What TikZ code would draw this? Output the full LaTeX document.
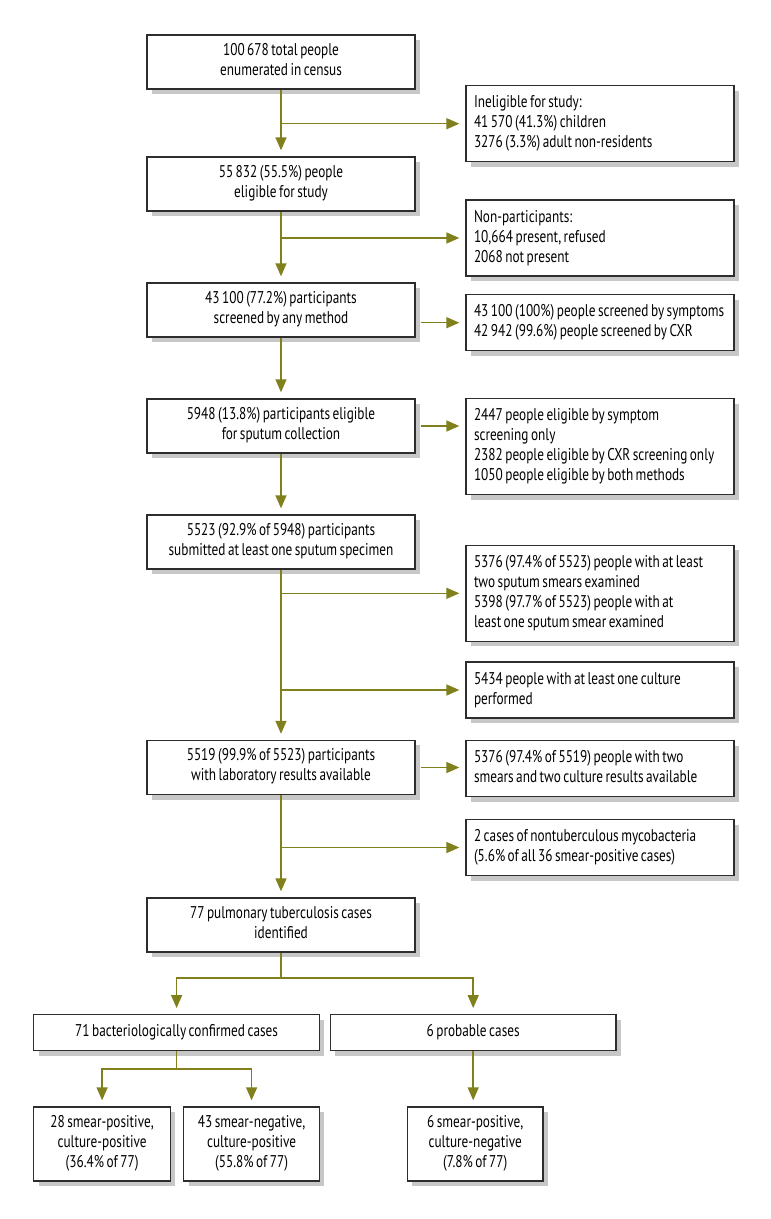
\documentclass[tikz,border=0pt]{standalone}
\usepackage{fontspec}
\setmainfont{PT Sans}[FakeStretch=0.78, WordSpace=0.7]
\usepackage{tikz}
\usetikzlibrary{arrows.meta,shadows}

\definecolor{flowolive}{RGB}{128,128,28}
\definecolor{boxline}{RGB}{45,45,45}

\tikzset{
  stage/.style={draw=boxline, line width=1.3pt, fill=white, align=center,
    minimum width=268pt, inner xsep=6pt, inner ysep=8pt,
    font=\fontsize{17}{20}\selectfont,
    execute at begin node=\strut, execute at end node=\strut,
    drop shadow={shadow xshift=5pt, shadow yshift=-5pt, fill=black!22, opacity=1}},
  note/.style={stage, text width=252pt, align=flush left, inner xsep=8pt},
  link/.style={draw=flowolive, line width=1.5pt},
  flow/.style={link, -{Triangle[width=11pt,length=13pt]}, shorten >=6pt},
}

\begin{document}
\begin{tikzpicture}[x=1pt,y=-1pt]
\useasboundingbox (0,0) rectangle (771,1219);

% main column
\node[stage] (census) at (281,62) {100 678 total people\\enumerated in census};
\node[stage] (eligible) at (281,184) {55 832 (55.5\%) people\\eligible for study};
\node[stage] (screened) at (281,310) {43 100 (77.2\%) participants\\screened by any method};
\node[stage] (sputum) at (281,426) {5948 (13.8\%) participants eligible\\for sputum collection};
\node[stage] (submitted) at (281,542) {5523 (92.9\% of 5948) participants\\submitted at least one sputum specimen};
\node[stage] (labres) at (281,767.5) {5519 (99.9\% of 5523) participants\\with laboratory results available};
\node[stage] (tbcases) at (281,925) {77 pulmonary tuberculosis cases\\identified};

% side notes
\node[note] (inelig) at (600,123.7) {Ineligible for study:\\41 570 (41.3\%) children\\3276 (3.3\%) adult non-residents};
\node[note] (nonpart) at (600,238) {Non-participants:\\10,664 present, refused\\2068 not present};
\node[note] (method) at (600,322.7) {43 100 (100\%) people screened by symptoms\\42 942 (99.6\%) people screened by CXR};
\node[note] (bywhich) at (600,446.7) {2447 people eligible by symptom\\screening only\\2382 people eligible by CXR screening only\\1050 people eligible by both methods};
\node[note] (smears) at (600,593.3) {5376 (97.4\% of 5523) people with at least\\two sputum smears examined\\5398 (97.7\% of 5523) people with at\\least one sputum smear examined};
\node[note] (culture) at (600,690) {5434 people with at least one culture\\performed};
\node[note] (twotwo) at (600,768.7) {5376 (97.4\% of 5519) people with two\\smears and two culture results available};
\node[note] (ntm) at (600,847.5) {2 cases of nontuberculous mycobacteria\\(5.6\% of all 36 smear-positive cases)};

% case split
\node[stage, minimum width=285.6pt] (confirmed) at (176.6,1032.7) {71 bacteriologically confirmed cases};
\node[stage, minimum width=285.6pt] (probable) at (473.2,1032.7) {6 probable cases};
\node[stage, minimum width=136.6pt] (smpcp) at (102.1,1144) {28 smear-positive,\\culture-positive\\(36.4\% of 77)};
\node[stage, minimum width=135.6pt] (smncp) at (251.6,1144) {43 smear-negative,\\culture-positive\\(55.8\% of 77)};
\node[stage, minimum width=135.6pt] (smpcn) at (475.2,1144) {6 smear-positive,\\culture-negative\\(7.8\% of 77)};

\coordinate (split) at (281,978);
\coordinate (subsplit) at (176.6,1069);

% connectors
\draw[flow] (census) -- (eligible);
\draw[flow] (census |- inelig) -- (inelig);
\draw[flow] (eligible) -- (screened);
\draw[flow] (eligible |- nonpart) -- (nonpart);
\draw[flow] (screened) -- (sputum);
\draw[flow, shorten <=5pt] (screened.east |- method) -- (method);
\draw[flow] (sputum) -- (submitted);
\draw[flow, shorten <=5pt] (sputum.east) -- (sputum -| bywhich.west);
\draw[flow] (submitted) -- (labres);
\draw[flow] (submitted |- smears) -- (smears);
\draw[flow] (submitted |- culture) -- (culture);
\draw[flow] (labres) -- (tbcases);
\draw[flow, shorten <=5pt] (labres.east) -- (labres -| twotwo.west);
\draw[flow] (labres |- ntm) -- (ntm);
\draw[link] (tbcases) -- (split);
\draw[flow] (split) -| (confirmed);
\draw[flow] (split) -| (probable);
\draw[link] (confirmed) -- (subsplit);
\draw[flow] (subsplit) -| (smpcp);
\draw[flow] (subsplit) -| (smncp);
\draw[flow] (probable) -- (probable |- smpcn.north);
\end{tikzpicture}
\end{document}
